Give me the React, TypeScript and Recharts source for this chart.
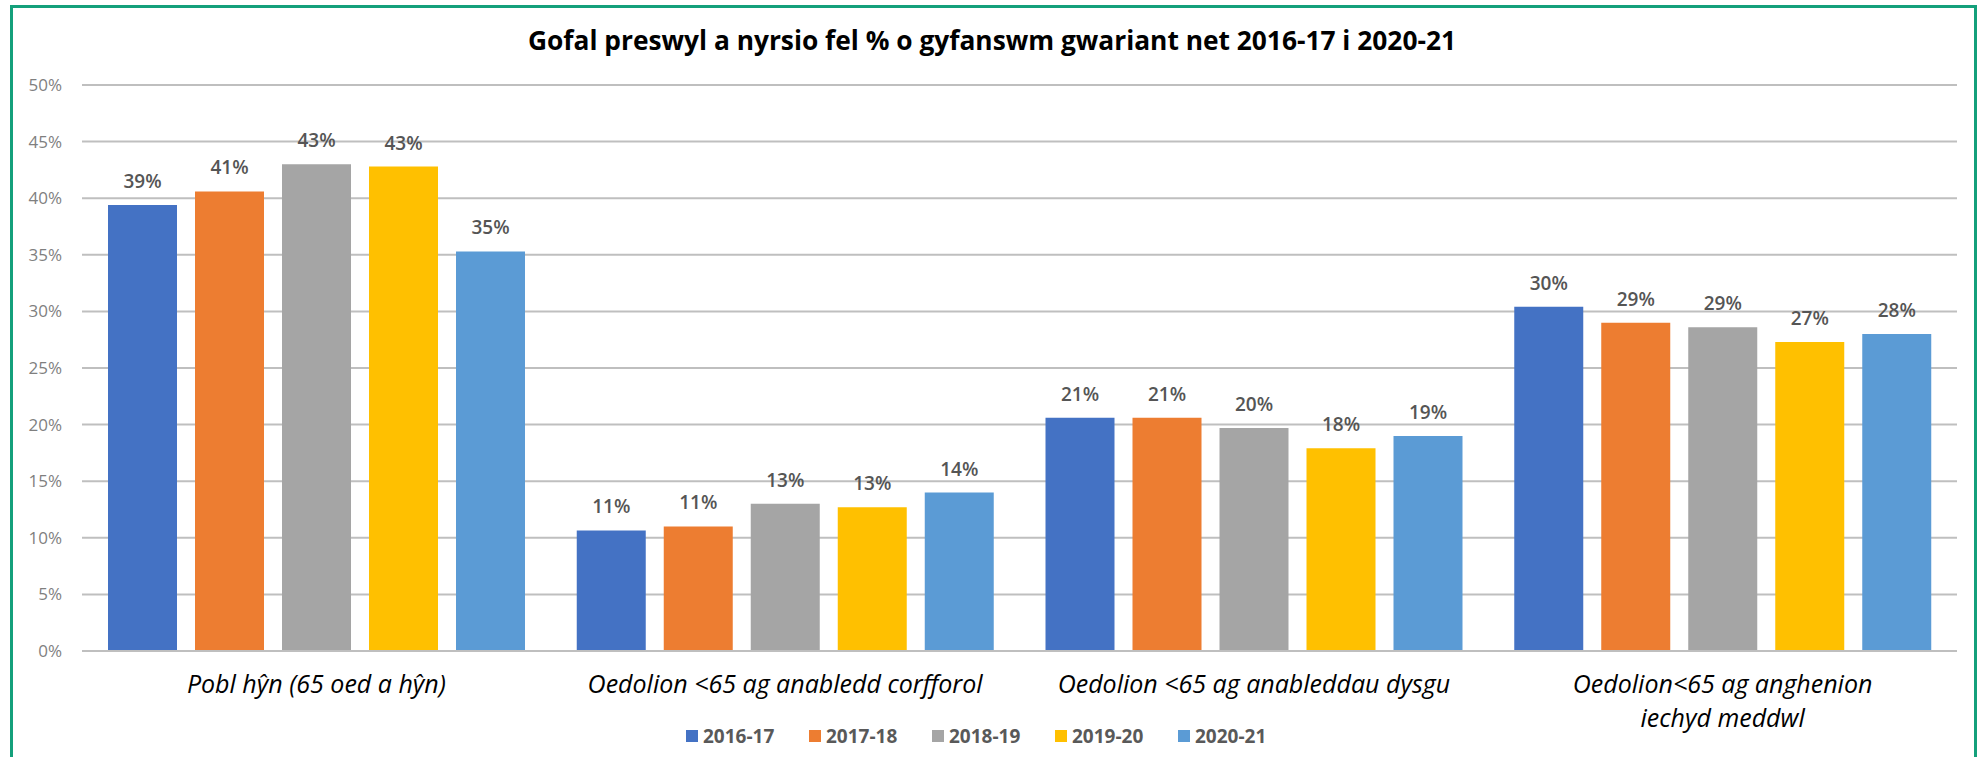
import React from "react";
import { BarChart, Bar, XAxis, YAxis, CartesianGrid, LabelList } from "recharts";

const categories = [
  "Pobl hŷn (65 oed a hŷn)",
  "Oedolion <65 ag anabledd corfforol",
  "Oedolion <65 ag anableddau dysgu",
  "Oedolion<65 ag anghenion iechyd meddwl",
];
const categoryLines = [
  ["Pobl hŷn (65 oed a hŷn)"],
  ["Oedolion <65 ag anabledd corfforol"],
  ["Oedolion <65 ag anableddau dysgu"],
  ["Oedolion<65 ag anghenion", "iechyd meddwl"],
];
const seriesNames = ["2016-17", "2017-18", "2018-19", "2019-20", "2020-21"];
const seriesColors = ["#4472C4", "#ED7D31", "#A5A5A5", "#FFC000", "#5B9BD5"];
const v2016_17 = [39.4, 10.65, 20.6, 30.4];
const v2017_18 = [40.6, 11.0, 20.6, 29.0];
const v2018_19 = [43.0, 13.0, 19.7, 28.6];
const v2019_20 = [42.8, 12.7, 17.9, 27.3];
const v2020_21 = [35.3, 14.0, 19.0, 28.0];
const yTicks = [0, 5, 10, 15, 20, 25, 30, 35, 40, 45, 50];
const title = "Gofal preswyl a nyrsio fel % o gyfanswm gwariant net 2016-17 i 2020-21";

const seriesValues = [v2016_17, v2017_18, v2018_19, v2019_20, v2020_21];
const data = categories.map((c, i) => {
  const row: any = { name: c };
  seriesNames.forEach((s, k) => (row[s] = seriesValues[k][i]));
  return row;
});

const FONT = "'Open Sans', sans-serif";

const XTick = (props: any) => {
  const { x, y, payload } = props;
  const lines = categoryLines[payload.index] || [payload.value];
  return (
    <g>
      {lines.map((l: string, i: number) => (
        <text
          key={i}
          x={x}
          y={y + 34 + i * 34}
          textAnchor="middle"
          fontFamily={FONT}
          fontStyle="italic"
          fontSize={25}
          fill="#000"
        >
          {l}
        </text>
      ))}
    </g>
  );
};

export default function App() {
  return (
    <div
      style={{
        position: "absolute",
        left: 0,
        top: 0,
        width: 1980,
        height: 757,
        overflow: "hidden",
        background: "#fff",
        fontFamily: FONT,
      }}
    >
      <div
        style={{
          position: "absolute",
          left: 10,
          top: 5,
          width: 1967,
          height: 800,
          boxSizing: "border-box",
          border: "3px solid #14a07b",
        }}
      />
      <svg style={{ position: "absolute", left: 0, top: 0 }} width={1980} height={80}>
        <text
          x={992}
          y={50}
          textAnchor="middle"
          fontFamily={FONT}
          fontWeight={700}
          fontSize={26}
          fill="#000"
          textLength={928}
          lengthAdjust="spacingAndGlyphs"
        >
          {title}
        </text>
      </svg>
      <div style={{ position: "absolute", left: 0, top: 0 }}>
        <BarChart
          width={1980}
          height={757}
          data={data}
          margin={{ top: 85, right: 23, bottom: 0, left: 0 }}
          barCategoryGap={26}
          barGap={18}
        >
          <CartesianGrid vertical={false} stroke="#bfbfbf" strokeWidth={2} />
          <XAxis
            dataKey="name"
            height={106}
            tickLine={false}
            axisLine={{ stroke: "#bfbfbf", strokeWidth: 2 }}
            tick={<XTick />}
            interval={0}
          />
          <YAxis
            width={82}
            domain={[0, 50]}
            ticks={yTicks}
            tickFormatter={(v: number) => `${v}%`}
            tickLine={false}
            axisLine={false}
            tickSize={6}
            tickMargin={14}
            tick={{ fill: "#7f7f7f", fontSize: 17, fontFamily: FONT }}
          />
          {seriesNames.map((s, k) => (
            <Bar key={s} dataKey={s} fill={seriesColors[k]} isAnimationActive={false}>
              <LabelList
                dataKey={s}
                position="top"
                offset={17}
                formatter={(v: any) => `${Math.round(Number(v))}%`}
                fill="#555555"
                fontSize={19}
                fontWeight={600}
                fontFamily={FONT}
              />
            </Bar>
          ))}
        </BarChart>
      </div>
      <div
        style={{
          position: "absolute",
          left: 686,
          top: 723,
          display: "flex",
          alignItems: "center",
          fontFamily: FONT,
          fontSize: 19,
          fontWeight: 700,
          color: "#595959",
          whiteSpace: "nowrap",
        }}
      >
        {seriesNames.map((s, k) => (
          <div key={s} style={{ display: "flex", alignItems: "center", width: 123 }}>
            <span
              style={{
                display: "inline-block",
                width: 12,
                height: 12,
                background: seriesColors[k],
                marginRight: 5,
              }}
            />
            <span>{s}</span>
          </div>
        ))}
      </div>
    </div>
  );
}
